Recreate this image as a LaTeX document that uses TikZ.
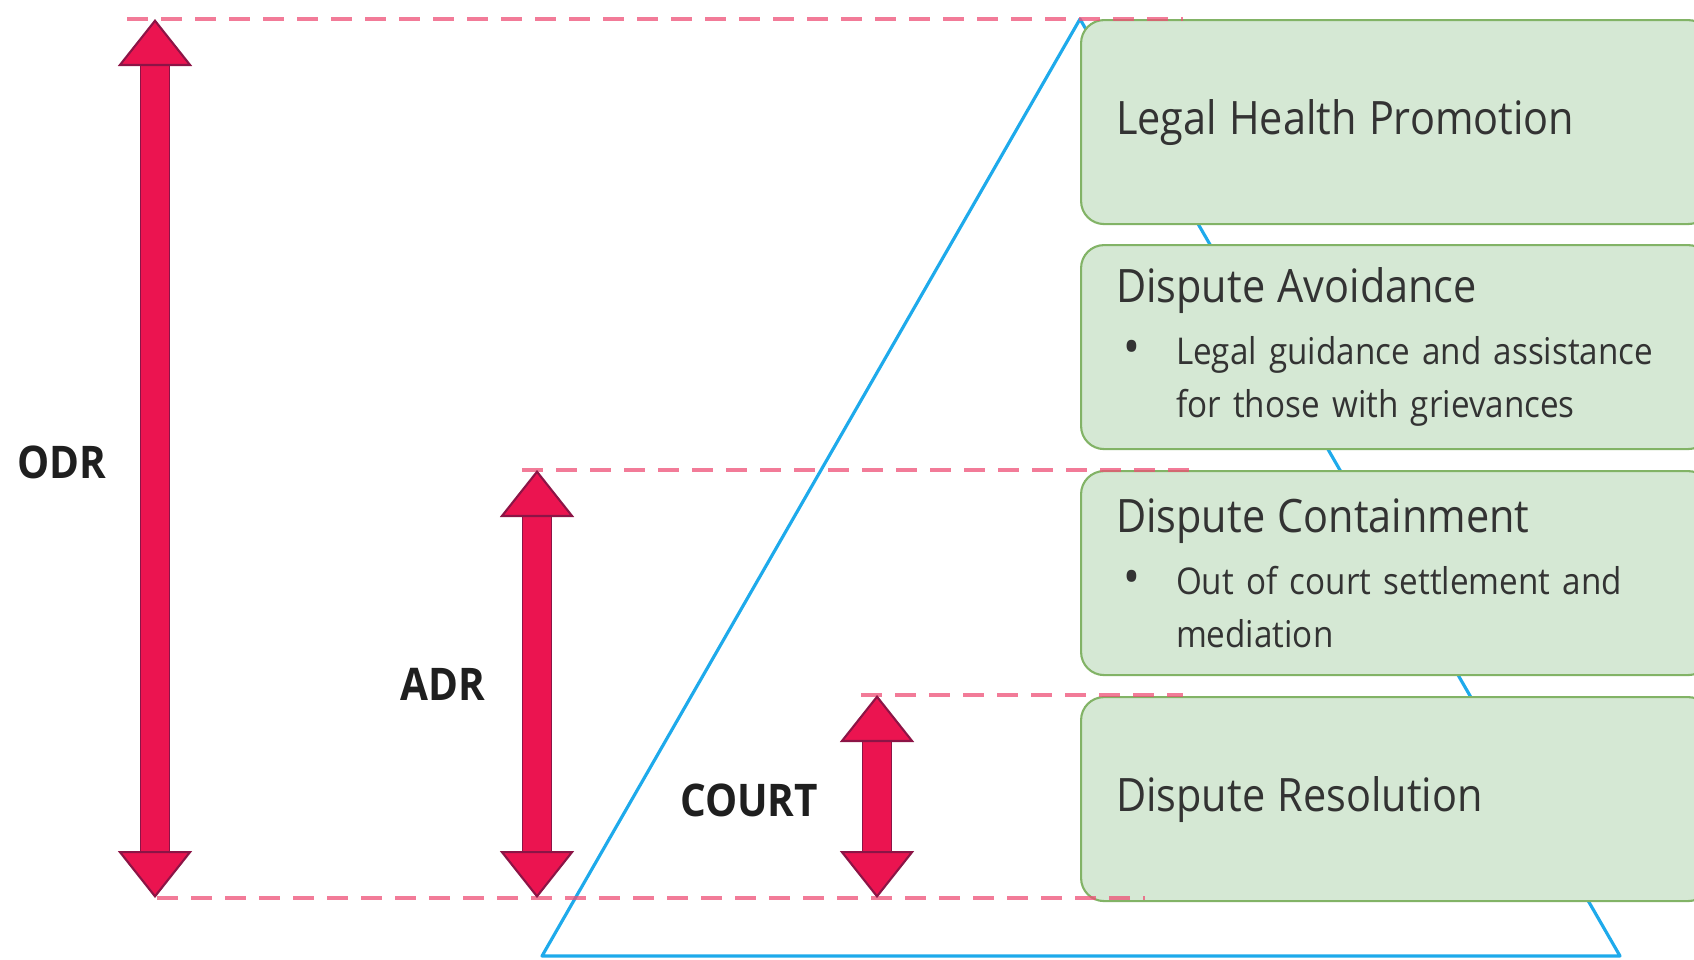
\documentclass[tikz,border=0pt]{standalone}
\usepackage{fontspec}
\setmainfont{Open Sans}[FakeStretch=0.9]
\usepackage{tikz}
\usetikzlibrary{arrows.meta,
	positioning}

\definecolor{boxfill}{HTML}{D5E8D4}
\definecolor{boxline}{HTML}{82B366}
\definecolor{rangered}{HTML}{EB1450}
\definecolor{rangeedge}{HTML}{8C1446}
\definecolor{levelpink}{HTML}{EE4F75}
\definecolor{pyramidblue}{HTML}{1EAAEB}
\definecolor{textgrey}{HTML}{333333}

\newcommand{\headfont}{\fontsize{13.1}{16}\selectfont}
\newcommand{\itemdot}{\hspace*{0.7mm}\makebox[5.3mm][l]{\scalebox{1.35}{\textbullet}}}

\begin{document}
\begin{tikzpicture}[x=0.1mm,y=-0.1mm]
    \tikzstyle{stagebox}=[draw=boxline,fill=boxfill,line width=0.6pt,rounded corners=2.3mm,
      anchor=north west,minimum height=20.4mm,text width=56mm,inner xsep=3.5mm,
      align=left,text=textgrey,font=\fontsize{10.5}{15.1}\selectfont]
    \tikzstyle{levelline}=[levelpink,opacity=0.75,line width=0.45mm,dash pattern=on 2.1mm off 1.3mm]
    \tikzstyle{rangearrow}=[rangered,line width=2.8mm,
      >={Triangle[width=7.4mm,length=4.7mm,line width=0.6pt,color=rangeedge,fill=rangered]},<->,
      preaction={draw=rangeedge,line width=2.95mm,arrows=-,shorten <=4.4mm,shorten >=4.4mm}]
    \tikzstyle{rangelabel}=[font=\fontsize{12.8}{15}\selectfont\bfseries,text=black!88]
    \clip (0,0) rectangle (1694,959);
    % pyramid
    \coordinate (apex) at (1080,19);
    \draw[pyramidblue,line width=0.9pt,line join=round] (apex) -- (542,956) -- (1620,956) -- cycle;
    % stages
    \node[stagebox] (box_1) at (1080,19) {{\headfont Legal Health Promotion}};
    \node[stagebox] (box_2) at (1080,244) {{\headfont Dispute Avoidance}\\[2.5pt]
      \itemdot Legal guidance and assistance\\
      \hspace*{6mm}for those with grievances};
    \node[stagebox] (box_3) at (1080,470) {{\headfont Dispute Containment}\\[2.5pt]
      \itemdot Out of court settlement and\\
      \hspace*{6mm}mediation};
    \node[stagebox] (box_4) at (1080,696) {{\headfont Dispute Resolution}};
    % ranges
    \coordinate (odr_top) at (155,19);
    \coordinate (odr_bot) at (155,898);
    \coordinate (adr_top) at (537,470);
    \coordinate (adr_bot) at (537,898);
    \coordinate (court_top) at (877,695);
    \coordinate (court_bot) at (877,898);
    \draw[levelline] ([xshift=-2.8mm]odr_top) -- ([xshift=10.3mm]box_1.west |- odr_top);
    \draw[levelline] ([xshift=-1.5mm]adr_top) -- ([xshift=11.4mm]box_3.west |- adr_top);
    \draw[levelline] ([xshift=-1.6mm]court_top) -- ([xshift=10.3mm]box_4.west |- court_top);
    \draw[levelline] ([xshift=0.2mm]odr_bot) -- ([xshift=6.5mm]box_4.west |- odr_bot);
    \draw[rangearrow] (odr_top) -- (odr_bot);
    \draw[rangearrow] (adr_top) -- (adr_bot);
    \draw[rangearrow] (court_top) -- (court_bot);
    \node[rangelabel] (odr) at (62,462) {ODR};
    \node[rangelabel] (adr) at (443,684) {ADR};
    \node[rangelabel] (court) at (749,800) {COURT};
  \end{tikzpicture}
\end{document}
